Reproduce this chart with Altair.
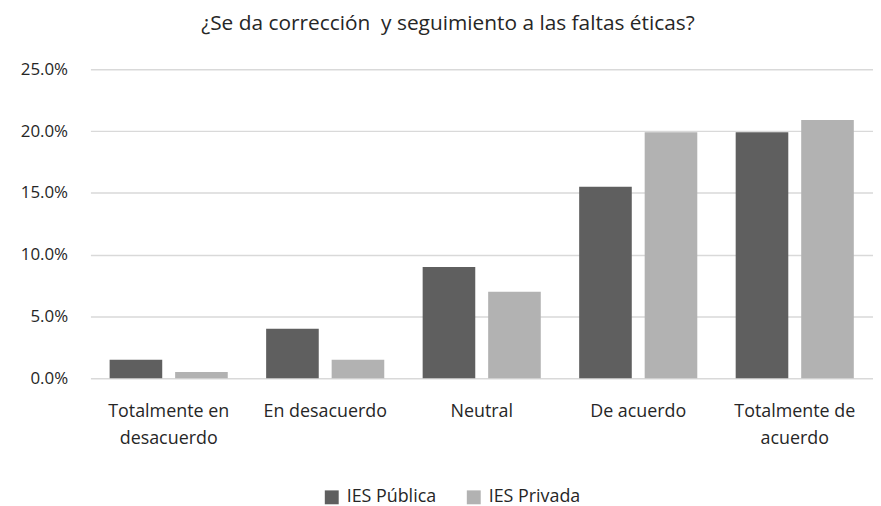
import altair as alt
import pandas as pd

categories = ["Totalmente en desacuerdo", "En desacuerdo", "Neutral", "De acuerdo", "Totalmente de acuerdo"]
series = ["IES Pública", "IES Privada"]
publica = [0.015, 0.040, 0.090, 0.155, 0.199]
privada = [0.005, 0.015, 0.070, 0.199, 0.209]
y_ticks = [0.0, 0.05, 0.10, 0.15, 0.20, 0.25]
title_text = "¿Se da corrección\u00a0 y seguimiento a las faltas éticas?"

rows = []
for c, a, b in zip(categories, publica, privada):
    rows.append({"categoria": c, "serie": series[0], "valor": a})
    rows.append({"categoria": c, "serie": series[1], "valor": b})
df = pd.DataFrame(rows)

FONT = "Open Sans"
label_expr = (
    "datum.label == 'Totalmente en desacuerdo' ? ['Totalmente en', 'desacuerdo'] : "
    "datum.label == 'Totalmente de acuerdo' ? ['Totalmente de', 'acuerdo'] : datum.label"
)

chart = alt.Chart(df).mark_bar().encode(
    x=alt.X(
        "categoria:N", sort=categories,
        scale=alt.Scale(paddingInner=0, paddingOuter=0),
        axis=alt.Axis(title=None, labelAngle=0, domain=False, ticks=False, labelPadding=25,
                      labelFontSize=18, labelColor="#262626", labelFont=FONT,
                      labelExpr=label_expr, labelLineHeight=27, labelLimit=0),
    ),
    xOffset=alt.XOffset("serie:N", sort=series,
                        scale=alt.Scale(paddingInner=0.197, paddingOuter=0.293)),
    y=alt.Y(
        "valor:Q", scale=alt.Scale(domain=[0, 0.25]),
        axis=alt.Axis(title=None, format=".1%", values=y_ticks, domain=False, ticks=False,
                      labelPadding=23, labelFontSize=17, labelColor="#262626", labelFont=FONT,
                      gridColor="#d9d9d9", gridWidth=1.5),
    ),
    color=alt.Color(
        "serie:N", sort=series,
        scale=alt.Scale(domain=series, range=["#5f5f5f", "#b2b2b2"]),
        legend=alt.Legend(title=None, orient="none", legendX=234, legendY=422,
                          direction="horizontal", symbolType="square", symbolSize=196,
                          symbolStrokeWidth=0, labelFontSize=18, labelFont=FONT,
                          labelColor="#262626", labelOffset=6, columnPadding=28),
    ),
).properties(
    width=788, height=311,
    title=alt.TitleParams(title_text, anchor="middle", dx=-34, offset=27,
                          fontSize=21, font=FONT, fontWeight="normal", color="#262626"),
    padding={"left": 83, "top": 60, "right": 0, "bottom": 127},
    autosize="none",
).configure_view(stroke=None)

chart.save("out.html", embed_options={"renderer": "svg", "actions": False})
